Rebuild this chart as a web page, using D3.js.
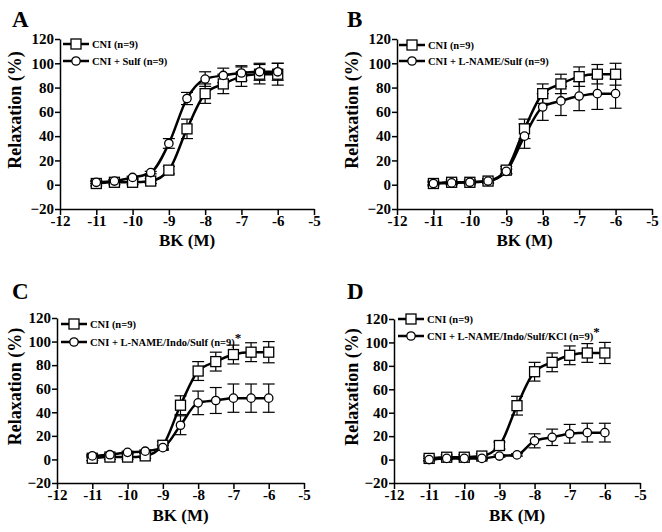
<!DOCTYPE html>
<html><head><meta charset="utf-8">
<script src="https://cdn.jsdelivr.net/npm/d3@7"></script>
<style>body{margin:0;background:#fff}svg{display:block}text{font-family:'Liberation Serif','Times New Roman',serif;font-weight:bold}</style>
</head><body>
<svg id="c" width="662" height="532"></svg>
<script>
const doses = [-11, -10.5, -10, -9.5, -9, -8.5, -8, -7.5, -7, -6.5, -6];
const xTicks = [-12, -11, -10, -9, -8, -7, -6, -5];
const yTicks = [-20, 0, 20, 40, 60, 80, 100, 120];

const cniMean = [1, 2, 2, 3, 12, 46, 75, 83, 89, 91, 91];
const cniErr  = [2, 2, 2, 2, 3, 8, 8, 8, 8, 8, 9];

const sulfMean = [2, 3, 6, 10, 34, 71, 87, 90, 92, 93, 93];
const sulfErr  = [1, 1, 1, 1, 4, 5, 6, 6, 6, 7, 7];

const lnameSulfMean = [1, 1.5, 2, 3, 11, 40, 64, 69, 73, 75, 75];
const lnameSulfErr  = [1, 1, 1, 1, 2, 10, 11, 12, 12, 13, 12];

const indoSulfMean = [3, 4, 6, 7, 10, 29, 48, 50, 52, 52, 52];
const indoSulfErr  = [1, 1, 1, 1, 2, 8, 10, 11, 12, 12, 12];

const kclMean = [0, 1, 1, 1, 3, 4, 16, 19, 22, 23, 23];
const kclErr  = [1, 1, 1, 1, 1, 1, 6, 7, 8, 8, 8];

const panelLetters = ["A", "B", "C", "D"];
const legendCNI = "CNI (n=9)";
const legendSecond = ["CNI + Sulf (n=9)", "CNI + L-NAME/Sulf (n=9)", "CNI + L-NAME/Indo/Sulf (n=9)", "CNI + L-NAME/Indo/Sulf/KCl (n=9)"];
const legendStar = [false, false, true, true];
const secondMeans = [sulfMean, lnameSulfMean, indoSulfMean, kclMean];
const secondErrs = [sulfErr, lnameSulfErr, indoSulfErr, kclErr];
const xLabel = "BK (M)";
const yLabel = "Relaxation (%)";

// layout (positions only)
const layout = [
  {l: 60, r: 314, t: 39, b: 209, letter: [12, 27], ylab: 15, xlabY: 246, legY: [44, 61], legX: 63},
  {l: 397, r: 652, t: 39, b: 209, letter: [347, 27], ylab: 352, xlabY: 246, legY: [45, 61], legX: 399},
  {l: 57, r: 304, t: 318, b: 483, letter: [12, 299], ylab: 15, xlabY: 521, legY: [324, 342], legX: 61},
  {l: 394, r: 640, t: 319, b: 483, letter: [347, 299], ylab: 352, xlabY: 521, legY: [319, 336], legX: 398}
];

const svg = d3.select("#c");
const font = "'Liberation Serif', 'Times New Roman', serif";

function drawSquare(g, x, y, s) {
  g.append("rect").attr("x", x - s/2).attr("y", y - s/2).attr("width", s).attr("height", s)
    .attr("fill", "#fff").attr("stroke", "#000").attr("stroke-width", 1.3);
}
function drawCircle(g, x, y, r) {
  g.append("circle").attr("cx", x).attr("cy", y).attr("r", r)
    .attr("fill", "#fff").attr("stroke", "#000").attr("stroke-width", 1.3);
}

layout.forEach((L, i) => {
  const g = svg.append("g");
  const x = d3.scaleLinear().domain([-12, -5]).range([L.l, L.r]);
  const y = d3.scaleLinear().domain([-20, 120]).range([L.b, L.t]);

  // axes
  const xa = g.append("g").attr("transform", `translate(0,${L.b})`)
    .call(d3.axisBottom(x).tickValues(xTicks).tickSize(6).tickSizeOuter(0));
  const ya = g.append("g").attr("transform", `translate(${L.l},0)`)
    .call(d3.axisLeft(y).tickValues(yTicks).tickSize(5).tickSizeOuter(0));
  [xa, ya].forEach(a => {
    a.attr("font-family", null).attr("font-size", null);
    a.select(".domain").attr("stroke", "#000").attr("stroke-width", 1.5);
    a.selectAll(".tick line").attr("stroke", "#000").attr("stroke-width", 1.5);
    a.selectAll("text").style("font-family", font).style("font-weight", "bold").style("font-size", "15px").attr("fill", "#000");
  });
  xa.selectAll("text").text(d => String(d)).attr("dy", null).attr("y", 14).attr("dominant-baseline", "middle");
  ya.selectAll("text").attr("x", -6);

  // labels
  g.append("text").attr("x", L.letter[0]).attr("y", L.letter[1]).text(panelLetters[i])
    .style("font-size", "23px");
  g.append("text").attr("x", (L.l + L.r) / 2).attr("y", L.xlabY).attr("text-anchor", "middle").text(xLabel)
    .style("font-size", "17px");
  g.append("text").attr("transform", `translate(${L.ylab},${(L.t + L.b) / 2 - 14}) rotate(-90)`)
    .attr("text-anchor", "middle").attr("dy", "0.35em").text(yLabel)
    .style("font-size", "18px");

  const series = [
    {mean: cniMean, err: cniErr, marker: "square"},
    {mean: secondMeans[i], err: secondErrs[i], marker: "circle"}
  ];
  const line = d3.line().x(d => x(d[0])).y(d => y(d[1])).curve(d3.curveMonotoneX);

  series.forEach(s => {
    const pts = doses.map((d, k) => [d, s.mean[k], s.err[k]]);
    pts.forEach(p => {
      const cx = x(p[0]);
      g.append("line").attr("x1", cx).attr("x2", cx).attr("y1", y(p[1] - p[2])).attr("y2", y(p[1] + p[2]))
        .attr("stroke", "#000").attr("stroke-width", 1.2);
      [p[1] - p[2], p[1] + p[2]].forEach(v => {
        g.append("line").attr("x1", cx - 6).attr("x2", cx + 6).attr("y1", y(v)).attr("y2", y(v))
          .attr("stroke", "#000").attr("stroke-width", 1.2);
      });
    });
  });
  series.forEach(s => {
    const pts = doses.map((d, k) => [d, s.mean[k]]);
    g.append("path").datum(pts).attr("d", line).attr("fill", "none").attr("stroke", "#000").attr("stroke-width", 2.5);
  });
  series.forEach(s => {
    doses.forEach((d, k) => {
      if (s.marker === "square") drawSquare(g, x(d), y(s.mean[k]), 10);
      else drawCircle(g, x(d), y(s.mean[k]), 4.2);
    });
  });

  // legend
  const labels = [legendCNI, legendSecond[i]];
  labels.forEach((lab, k) => {
    const ly = L.legY[k];
    g.append("line").attr("x1", L.legX).attr("x2", L.legX + 26).attr("y1", ly).attr("y2", ly)
      .attr("stroke", "#000").attr("stroke-width", 2.5);
    if (k === 0) drawSquare(g, L.legX + 13, ly, 10); else drawCircle(g, L.legX + 13, ly, 4.2);
    const t = g.append("text").attr("x", L.legX + 29).attr("y", ly).attr("dy", "0.35em")
      .style("font-size", "10.5px").text(lab);
    if (k === 1 && legendStar[i]) {
      t.append("tspan").attr("dy", "-0.25em").style("font-size", "13px").text("*");
    }
  });
});
</script>
</body></html>
